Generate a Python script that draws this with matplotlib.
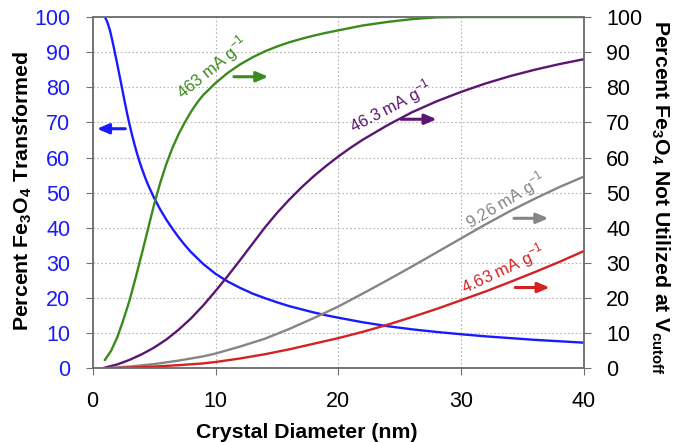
import matplotlib
matplotlib.use("Agg")
import matplotlib.pyplot as plt

plt.rcParams['font.family'] = ['Liberation Sans', 'DejaVu Sans']

# blue: percent transformed (left axis)
blue_x = [1.0, 1.2, 1.4, 1.6, 1.8, 2.0, 2.2, 2.4, 2.6, 2.8, 3.0, 3.2, 3.4, 3.6, 3.8, 4.0,
          4.25, 4.5, 5.0, 5.5, 6.0, 6.5, 7.0, 7.5, 8.0, 9, 10, 11, 12, 13, 14, 15, 16, 17,
          18, 19, 20, 22, 24, 26, 28, 30, 32, 34, 36, 38, 40]
blue_y = [100, 98.5, 96.3, 93.3, 90.0, 86.6, 83.1, 79.6, 76.0, 72.6, 69.4, 66.5, 63.8, 61.3,
          59.0, 56.9, 54.5, 52.3, 48.5, 45.2, 42.3, 39.7, 37.3, 35.1, 33.1, 29.7, 26.9, 24.7,
          22.9, 21.3, 20.0, 18.8, 17.7, 16.8, 15.9, 15.1, 14.4, 13.1, 12.0, 11.1, 10.35, 9.7,
          9.1, 8.6, 8.1, 7.7, 7.3]

# not utilized at V cutoff (right axis)
green_x = [1.0, 1.5, 2.0, 2.5, 3.0, 3.5, 4.0, 4.5, 5.0, 5.5, 6.0, 6.5, 7.0, 7.5, 8.0, 8.5,
           9, 10, 11, 12, 13, 14, 15, 16, 17, 18, 19, 20, 22, 24, 26, 28, 30, 35, 40]
green_y = [2.4, 5.0, 8.8, 13.8, 19.3, 25.8, 32.6, 39.6, 46.6, 52.8, 58.2, 62.8, 66.7, 70.0,
           73.0, 75.6, 77.8, 81.2, 84.1, 86.5, 88.5, 90.2, 91.6, 92.8, 93.8, 94.7, 95.5, 96.2,
           97.6, 98.6, 99.4, 99.9, 100, 100, 100]

purple_x = [1, 2, 3, 4, 5, 6, 7, 8, 9, 10, 11, 12, 13, 14, 15, 16, 17, 18, 19, 20, 21, 22,
            24, 26, 28, 30, 32, 34, 36, 38, 40]
purple_y = [0.2, 1.1, 2.4, 4.0, 5.9, 8.2, 11.0, 14.2, 17.9, 22.0, 26.3, 30.8, 35.4, 40.0,
            44.2, 48.0, 51.5, 54.7, 57.6, 60.3, 62.8, 65.1, 69.2, 72.9, 76.0, 78.7, 81.1,
            83.2, 85.0, 86.6, 88.0]

gray_x = [1, 3, 5, 7, 9, 10, 12, 14, 16, 18, 20, 22, 24, 26, 28, 30, 32, 34, 36, 38, 40]
gray_y = [0, 0.5, 1.2, 2.2, 3.4, 4.2, 6.2, 8.4, 11.2, 14.3, 17.6, 21.3, 25.1, 29.0, 33.0,
          37.0, 41.0, 44.8, 48.3, 51.6, 54.6]

red_x = [1, 3, 5, 7, 9, 10, 12, 14, 16, 18, 20, 22, 24, 26, 28, 30, 32, 34, 36, 38, 40]
red_y = [0, 0.2, 0.5, 0.9, 1.4, 1.8, 2.8, 4.0, 5.4, 7.0, 8.6, 10.4, 12.4, 14.6, 16.9,
         19.4, 21.9, 24.6, 27.4, 30.3, 33.4]

ticks = [0, 10, 20, 30, 40, 50, 60, 70, 80, 90, 100]
xticks = [0, 10, 20, 30, 40]

BLUE = '#1a1aff'
GREEN = '#3b8a1c'
PURPLE = '#5a1670'
GRAY = '#858585'
RED = '#d42222'
SPINE = '#707070'

fig = plt.figure(figsize=(6.73, 4.42), dpi=100)
ax = fig.add_axes([0.1377, 0.1667, 0.7301, 0.7948])
ax2 = ax.twinx()

ax.plot(blue_x, blue_y, color=BLUE, lw=1.7)
ax2.plot(green_x, green_y, color=GREEN, lw=1.7)
ax2.plot(purple_x, purple_y, color=PURPLE, lw=1.7)
ax2.plot(gray_x, gray_y, color=GRAY, lw=1.7)
ax2.plot(red_x, red_y, color=RED, lw=1.7)

for a in (ax, ax2):
    a.set_xlim(0, 40)
    a.set_ylim(0, 100)
    a.set_yticks(ticks)
    for s in a.spines.values():
        s.set_color(SPINE)
        s.set_linewidth(1.1)

ax.set_xticks(xticks)
ax.grid(True, color='#b5b5b5', ls=(0, (1.5, 2)), lw=0.8)
ax.set_axisbelow(True)

ax.tick_params(axis='y', colors=SPINE, labelcolor=BLUE, labelsize=15.5, length=5, pad=11)
ax.tick_params(axis='x', colors=SPINE, labelcolor='black', labelsize=15.5, length=5, pad=11)
ax2.tick_params(axis='y', colors=SPINE, labelcolor='black', labelsize=15.5, length=5, pad=11)

# axis titles
fig.text(0.4562, 0.022, 'Crystal Diameter (nm)', fontsize=15.3, fontweight='bold',
         ha='center', va='center')
fig.text(0.034, 0.5667, 'Percent Fe$_\\mathregular{3}$O$_\\mathregular{4}$ Transformed',
         fontsize=15.3, fontweight='bold', rotation=90, ha='center', va='center')
fig.text(0.9807, 0.5543,
         'Percent Fe$_\\mathregular{3}$O$_\\mathregular{4}$ Not Utilized at V$_\\mathregular{cutoff}$',
         fontsize=15.3, fontweight='bold', rotation=-90, ha='center', va='center')

# curve labels
lab = dict(fontsize=12, ha='center', va='center', rotation_mode='anchor')
ax2.text(9.7, 85.5, '463 mA g$^\\mathregular{-1}$', color=GREEN, rotation=39, **lab)
ax2.text(24.3, 74.5, '46.3 mA g$^\\mathregular{-1}$', color=PURPLE, rotation=27.5, **lab)
ax2.text(33.6, 47.8, '9.26 mA g$^\\mathregular{-1}$', color=GRAY, rotation=31, **lab)
ax2.text(33.4, 28.3, '4.63 mA g$^\\mathregular{-1}$', color=RED, rotation=25, **lab)

# direction arrows
arrows = [(2.65, 0.35, 68.2, BLUE), (11.5, 14.3, 83.0, GREEN), (25.1, 28.0, 70.9, PURPLE),
          (34.3, 37.1, 42.7, GRAY), (34.4, 37.2, 23.0, RED)]
for x0, x1, yy, c in arrows:
    ax2.annotate('', xy=(x1, yy), xytext=(x0, yy),
                 arrowprops=dict(arrowstyle='-|>,head_length=0.7,head_width=0.3',
                                 color=c, lw=2.2, shrinkA=0, shrinkB=0))

fig.savefig('out.png', dpi=100)
